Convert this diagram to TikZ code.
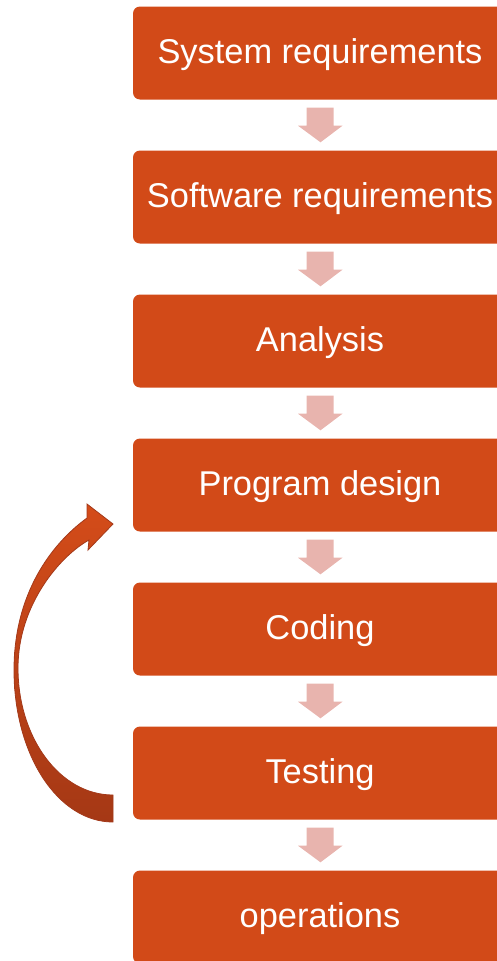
\documentclass[tikz,border=0pt]{standalone}
\usepackage{fontspec}
\setmainfont{Liberation Sans}
\usetikzlibrary{calc}
\definecolor{stepfill}{HTML}{D24A18}
\definecolor{flowpink}{HTML}{E8B4AE}
\definecolor{looptop}{HTML}{D44C19}
\definecolor{loopbot}{HTML}{A53815}
\definecolor{loopline}{HTML}{A3391A}
\tikzset{
  stepbox/.style={fill=stepfill, rounded corners=7pt, minimum width=374pt,
    minimum height=93pt, inner sep=0pt, text=white,
    text height=25pt, text depth=4pt,
    font=\fontsize{34.4}{41}\selectfont},
  flowarrow/.style={fill=flowpink},
}
% draws the pink block arrow between two stacked boxes
\newcommand{\blockdown}[2]{%
  \fill[flowarrow] ($(#1.south)+(-13.5,8)$) -- ++(27,0) -- ++(0,18) -- ++(9,0)
    -- ($(#2.north)+(0.5,-8)$) -- ($(#1.south)+(-22,26)$) -- ++(8.5,0) -- cycle;}
\begin{document}
\begin{tikzpicture}[x=1pt,y=-1pt]
\useasboundingbox (0,0) rectangle (496,961);

\node[stepbox] (b1) at (320,53)  {System requirements};
\node[stepbox] (b2) at (320,197) {Software requirements};
\node[stepbox] (b3) at (320,341) {Analysis};
\node[stepbox] (b4) at (320,485) {Program design};
\node[stepbox] (b5) at (320,629) {Coding};
\node[stepbox] (b6) at (320,773) {Testing};
\node[stepbox] (b7) at (320,917) {operations};

\blockdown{b1}{b2}
\blockdown{b2}{b3}
\blockdown{b3}{b4}
\blockdown{b4}{b5}
\blockdown{b5}{b6}
\blockdown{b6}{b7}

% curved feedback arrow from Testing back to Program design
\shadedraw[top color=looptop, bottom color=loopbot, draw=loopline, line width=0.8pt, line join=miter]
  (113,822) .. controls (58,822) and (14,755) .. (14,670)
  .. controls (14,595) and (50,545) .. (87,518)
  -- (87,504) -- (113,524) -- (88,550) -- (89,540)
  .. controls (60,556) and (18,605) .. (18,668)
  .. controls (18,738) and (60,795) .. (113,795) -- cycle;
\end{tikzpicture}
\end{document}
